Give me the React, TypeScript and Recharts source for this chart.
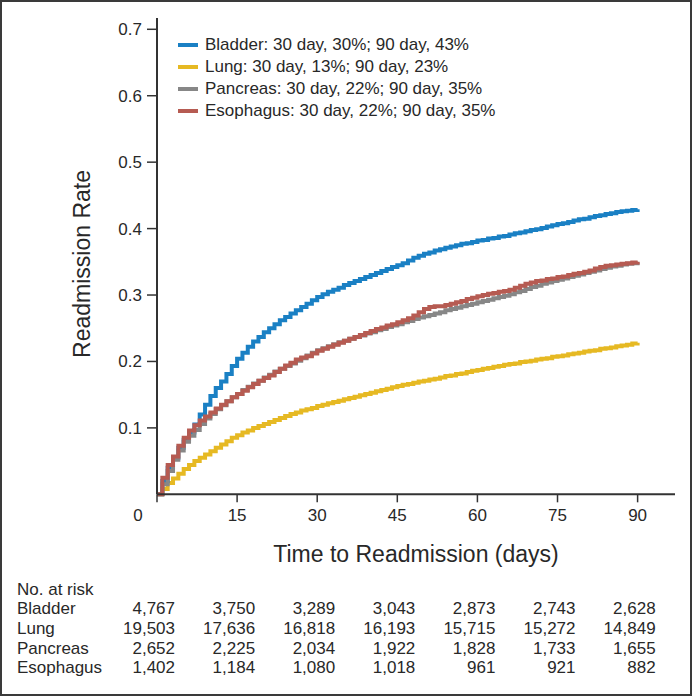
import { Legend, Line, LineChart, XAxis, YAxis } from 'recharts'

// Cumulative readmission rate by day (0-90).
const bladder = [
  0, 0.02, 0.04, 0.055, 0.07, 0.082, 0.093, 0.105, 0.12, 0.135,
  0.148, 0.16, 0.17, 0.181, 0.193, 0.204, 0.213, 0.222, 0.23, 0.237,
  0.244, 0.25, 0.256, 0.262, 0.267, 0.272, 0.277, 0.282, 0.287, 0.292,
  0.297, 0.301, 0.305, 0.308, 0.311, 0.315, 0.318, 0.321, 0.324, 0.327,
  0.33, 0.333, 0.336, 0.339, 0.342, 0.345, 0.348, 0.352, 0.356, 0.359,
  0.362, 0.364, 0.367, 0.369, 0.371, 0.373, 0.375, 0.377, 0.378, 0.38,
  0.382, 0.383, 0.385, 0.386, 0.388, 0.389, 0.391, 0.393, 0.394, 0.396,
  0.398, 0.399, 0.401, 0.403, 0.405, 0.407, 0.408, 0.41, 0.412, 0.414,
  0.415, 0.417, 0.419, 0.42, 0.422, 0.423, 0.425, 0.426, 0.427, 0.428,
  0.429,
]

const lung = [
  0, 0.008, 0.017, 0.024, 0.031, 0.038, 0.044, 0.05, 0.055, 0.06,
  0.065, 0.07, 0.075, 0.08, 0.085, 0.089, 0.093, 0.096, 0.1, 0.103,
  0.106, 0.109, 0.112, 0.115, 0.118, 0.121, 0.123, 0.126, 0.128, 0.13,
  0.133, 0.135, 0.137, 0.139, 0.141, 0.143, 0.145, 0.147, 0.149, 0.151,
  0.153, 0.155, 0.157, 0.159, 0.161, 0.163, 0.165, 0.166, 0.168, 0.17,
  0.171, 0.173, 0.174, 0.176, 0.178, 0.179, 0.181, 0.182, 0.184, 0.186,
  0.187, 0.189, 0.19, 0.192, 0.193, 0.195, 0.196, 0.197, 0.199, 0.2,
  0.201, 0.203, 0.204, 0.205, 0.207, 0.208, 0.209, 0.211, 0.212, 0.213,
  0.215, 0.216, 0.217, 0.219, 0.22, 0.221, 0.223, 0.224, 0.225, 0.227,
  0.228,
]

const pancreas = [
  0, 0.015, 0.035, 0.052, 0.066, 0.079, 0.088, 0.097, 0.106, 0.114,
  0.121, 0.128, 0.134, 0.14, 0.146, 0.151, 0.157, 0.162, 0.167, 0.171,
  0.176, 0.18, 0.185, 0.189, 0.193, 0.197, 0.201, 0.205, 0.209, 0.213,
  0.217, 0.22, 0.223, 0.226, 0.229, 0.231, 0.234, 0.237, 0.239, 0.242,
  0.244, 0.247, 0.249, 0.252, 0.254, 0.256, 0.259, 0.261, 0.264, 0.266,
  0.268, 0.27, 0.272, 0.274, 0.277, 0.279, 0.281, 0.283, 0.285, 0.287,
  0.289, 0.291, 0.293, 0.295, 0.297, 0.299, 0.301, 0.304, 0.306, 0.309,
  0.312, 0.314, 0.317, 0.319, 0.321, 0.323, 0.325, 0.327, 0.329, 0.331,
  0.333, 0.335, 0.337, 0.339, 0.341, 0.343, 0.344, 0.346, 0.347, 0.348,
  0.349,
]

const esophagus = [
  0, 0.025, 0.044, 0.057, 0.073, 0.085, 0.096, 0.104, 0.111, 0.117,
  0.123, 0.129, 0.135, 0.14, 0.146, 0.151, 0.156, 0.161, 0.166, 0.171,
  0.175, 0.179, 0.184, 0.189, 0.194, 0.198, 0.203, 0.206, 0.208, 0.212,
  0.216, 0.219, 0.222, 0.225, 0.228, 0.231, 0.234, 0.237, 0.24, 0.243,
  0.246, 0.249, 0.251, 0.254, 0.256, 0.259, 0.262, 0.265, 0.269, 0.274,
  0.279, 0.282, 0.283, 0.283, 0.285, 0.287, 0.289, 0.291, 0.294, 0.296,
  0.298, 0.3, 0.302, 0.303, 0.305, 0.306, 0.308, 0.311, 0.314, 0.317,
  0.319, 0.321, 0.322, 0.324, 0.325, 0.327, 0.328, 0.33, 0.332, 0.333,
  0.335, 0.337, 0.34, 0.342, 0.344, 0.345, 0.346, 0.347, 0.348, 0.349,
  0.35,
]

const xTicks = [0, 15, 30, 45, 60, 75, 90]
const yTicks = [0.1, 0.2, 0.3, 0.4, 0.5, 0.6, 0.7]

// No. at risk, at each x tick
const bladderRisk = [4767, 3750, 3289, 3043, 2873, 2743, 2628]
const lungRisk = [19503, 17636, 16818, 16193, 15715, 15272, 14849]
const pancreasRisk = [2652, 2225, 2034, 1922, 1828, 1733, 1655]
const esophagusRisk = [1402, 1184, 1080, 1018, 961, 921, 882]

const series = [
  { key: 'bladder', label: 'Bladder: 30 day, 30%; 90 day, 43%', color: '#1a80c4' },
  { key: 'lung', label: 'Lung: 30 day, 13%; 90 day, 23%', color: '#e6b923' },
  { key: 'pancreas', label: 'Pancreas: 30 day, 22%; 90 day, 35%', color: '#878787' },
  { key: 'esophagus', label: 'Esophagus: 30 day, 22%; 90 day, 35%', color: '#b65b52' },
]

// draw order: red sits on top of gray, as in the figure
const drawOrder = ['lung', 'bladder', 'pancreas', 'esophagus']

// bottom axes stack in id order, so ids carry a sort prefix
const riskRows: { id: string; label: string; counts: number[] | null }[] = [
  { id: 'x1header', label: 'No. at risk', counts: null },
  { id: 'x2bladder', label: 'Bladder', counts: bladderRisk },
  { id: 'x3lung', label: 'Lung', counts: lungRisk },
  { id: 'x4pancreas', label: 'Pancreas', counts: pancreasRisk },
  { id: 'x5esophagus', label: 'Esophagus', counts: esophagusRisk },
]

const data = bladder.map((v, i) => ({
  day: i,
  bladder: v,
  lung: lung[i],
  pancreas: pancreas[i],
  esophagus: esophagus[i],
}))

const FONT = '"Liberation Sans", Arial, Helvetica, sans-serif'
const INK = '#282828'
const AXIS = '#333'
const X_DOMAIN: [number, number] = [0, 97]
const ROW_H = 19.67

function MainTick(props: any) {
  const { x, y, payload } = props
  const shift = payload.value === 0 ? -19 : 0
  return (
    <text x={x + shift} y={y} dy={15} textAnchor="middle" fill={INK} fontSize={17} fontFamily={FONT}>
      {payload.value}
    </text>
  )
}

function makeRiskTick(label: string, counts: number[] | null) {
  return (props: any) => {
    const { x, y, payload } = props
    const idx = xTicks.indexOf(payload.value)
    return (
      <g>
        {idx === 0 && (
          <text x={17} y={y} dy={16} fill={INK} fontSize={17} fontFamily={FONT}>
            {label}
          </text>
        )}
        {counts && (
          <text x={x + 18} y={y} dy={16} textAnchor="end" fill={INK} fontSize={17} fontFamily={FONT}>
            {counts[idx].toLocaleString('en-US')}
          </text>
        )}
      </g>
    )
  }
}

function LegendBox() {
  return (
    <div style={{ fontFamily: FONT, fontSize: 17, color: INK }}>
      {series.map((s) => (
        <div key={s.key} style={{ display: 'flex', alignItems: 'center', height: 22, whiteSpace: 'nowrap' }}>
          <span style={{ display: 'inline-block', width: 20, height: 4, background: s.color, marginRight: 7 }} />
          {s.label}
        </div>
      ))}
    </div>
  )
}

export default function App() {
  return (
    <div style={{ position: 'absolute', left: 0, top: 0, width: 692, height: 696, background: '#fff' }}>
      <LineChart
        width={692}
        height={696}
        data={data}
        margin={{ top: 18, right: 17, bottom: 19, left: 0 }}
      >
        <XAxis
          xAxisId="x0main"
          dataKey="day"
          type="number"
          domain={X_DOMAIN}
          ticks={xTicks}
          interval={0}
          height={104 - ROW_H}
          axisLine={{ stroke: AXIS, strokeWidth: 2 }}
          tickLine={{ stroke: AXIS, strokeWidth: 1.5 }}
          tickSize={8}
          tickMargin={4}
          tick={MainTick}
          label={{
            value: 'Time to Readmission (days)',
            position: 'insideTop',
            offset: 51,
            style: { fill: INK, fontSize: 23, fontFamily: FONT },
          }}
        />
        {riskRows.map((r) => (
          <XAxis
            key={r.id}
            xAxisId={r.id}
            dataKey="day"
            type="number"
            domain={X_DOMAIN}
            ticks={xTicks}
            interval={0}
            height={ROW_H}
            axisLine={false}
            tickLine={false}
            tickSize={0}
            tickMargin={0}
            tick={makeRiskTick(r.label, r.counts)}
          />
        ))}
        <YAxis
          type="number"
          domain={[0, 0.717]}
          ticks={yTicks}
          interval={0}
          width={157}
          axisLine={{ stroke: AXIS, strokeWidth: 2 }}
          tickLine={{ stroke: AXIS, strokeWidth: 1.5 }}
          tickSize={10}
          tickMargin={5}
          tick={{ fill: INK, fontSize: 17, fontFamily: FONT }}
          label={{
            content: () => (
              <text
                transform="translate(82,264) rotate(-90)"
                textAnchor="middle"
                dominantBaseline="central"
                fill={INK}
                fontSize={23}
                fontFamily={FONT}
              >
                Readmission Rate
              </text>
            ),
          }}
        />
        <Legend
          layout="vertical"
          align="center"
          verticalAlign="middle"
          content={() => <LegendBox />}
          wrapperStyle={{ left: 178, top: 34, width: 'auto', height: 'auto' }}
        />
        {drawOrder.map((k) => {
          const s = series.find((x) => x.key === k)!
          return (
            <Line
              key={s.key}
              xAxisId="x0main"
              type="stepAfter"
              dataKey={s.key}
              name={s.label}
              stroke={s.color}
              strokeWidth={4}
              dot={false}
              activeDot={false}
              isAnimationActive={false}
            />
          )
        })}
      </LineChart>
      <div
        style={{
          position: 'absolute',
          left: 0,
          top: 0,
          width: 692,
          height: 696,
          boxSizing: 'border-box',
          border: '2px solid #3a3a3a',
          pointerEvents: 'none',
        }}
      />
    </div>
  )
}
